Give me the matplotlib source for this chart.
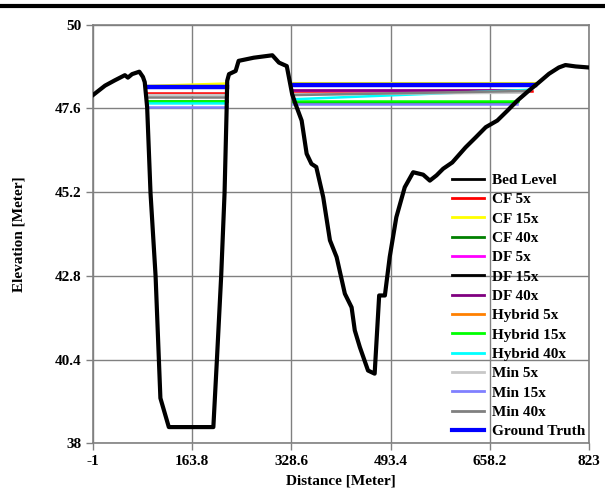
import matplotlib
matplotlib.use("Agg")
import matplotlib.pyplot as plt
import numpy as np
from matplotlib.lines import Line2D

plt.rcParams['font.family'] = ['Liberation Serif', 'DejaVu Serif']
plt.rcParams['font.weight'] = 'bold'

# bed profile
bed_x = [-1, 19, 35, 52, 57, 64, 76, 82, 85, 89, 94.6, 103, 111, 125, 199, 205, 212,
         217.6, 221, 222, 225, 236, 241, 266, 297, 308, 321, 330, 336, 345.7, 354, 362,
         370, 381.5, 392.7, 403.8, 417.5, 428.7, 434, 442.4, 456, 467, 474.5, 484, 492,
         503, 517, 531, 547.6, 558.7, 569.8, 580.8, 596, 618, 635, 651.6, 670.8, 687.4,
         704, 723.4, 737, 756.7, 773, 784, 801, 823]
bed_y = [47.98, 48.25, 48.40, 48.55, 48.48, 48.58, 48.65, 48.50, 48.35, 47.63, 45.17,
         42.8, 39.3, 38.47, 38.47, 40.43, 42.8, 45.17, 47.53, 48.39, 48.58, 48.67, 48.96,
         49.05, 49.12, 48.91, 48.81, 48.0, 47.7, 47.25, 46.3, 46.01, 45.92, 45.06, 43.82,
         43.34, 42.29, 41.9, 41.24, 40.76, 40.09, 40.0, 42.24, 42.24, 43.34, 44.48, 45.34,
         45.77, 45.7, 45.53, 45.68, 45.87, 46.05, 46.48, 46.77, 47.06, 47.25, 47.53, 47.82,
         48.11, 48.3, 48.59, 48.77, 48.84, 48.8, 48.77]

# water surface, channel 1 spans x 89..221, channel 2 from 332 to a per-series end
ch1_x = [89, 221]
ch2_start = 332
names = ['CF 5x', 'CF 15x', 'CF 40x', 'DF 5x', 'DF 15x', 'DF 40x', 'Hybrid 5x',
         'Hybrid 15x', 'Hybrid 40x', 'Min 5x', 'Min 15x', 'Min 40x', 'Ground Truth']
colors = ['#ff0000', '#ffff00', '#008000', '#ff00ff', '#000000', '#800080', '#ff8000',
          '#00ff00', '#00ffff', '#c8c8c8', '#8080ff', '#808080', '#0000ff']
ch1_left = [48.04, 48.24, 47.80, 48.20, 48.21, 48.20, 48.21, 47.82, 47.74, 47.98, 47.65, 47.91, 48.21]
ch1_right = [48.04, 48.31, 47.80, 48.20, 48.21, 48.20, 48.21, 47.82, 47.74, 47.98, 47.65, 47.91, 48.21]
ch2_left = [48.10, 48.32, 47.78, 48.13, 48.27, 48.12, 48.27, 47.81, 47.86, 48.00, 47.73, 47.98, 48.27]
ch2_right = [48.10, 48.32, 47.78, 48.13, 48.27, 48.12, 48.27, 47.81, 48.13, 48.05, 47.73, 48.10, 48.27]
ch2_end = [729, 736, 704, 722, 733, 722, 733, 706, 723, 720, 703, 725, 734]

x_ticks = [-1, 163.8, 328.6, 493.4, 658.2, 823]
x_labels = ['-1', '163.8', '328.6', '493.4', '658.2', '823']
y_ticks = [38, 40.4, 42.8, 45.2, 47.6, 50]
y_labels = ['38', '40.4', '42.8', '45.2', '47.6', '50']

fig = plt.figure(figsize=(6.05, 4.9), dpi=100)
ax = fig.add_axes([0.1537, 0.0949, 0.8197, 0.855])

ax.plot(bed_x, bed_y, color='black', linewidth=3, label='Bed Level', zorder=5)

for i, name in enumerate(names):
    xs = [ch1_x[0], ch1_x[1], np.nan, ch2_start, ch2_end[i]]
    ys = [ch1_left[i], ch1_right[i], np.nan, ch2_left[i], ch2_right[i]]
    lw = 3.2 if name == 'Ground Truth' else 1.8
    ax.plot(xs, ys, color=colors[i], linewidth=lw, label=name, zorder=3)

ax.set_xlim(-1, 823)
ax.set_ylim(38, 50)
ax.set_xticks(x_ticks)
ax.set_xticklabels(x_labels)
ax.set_yticks(y_ticks)
ax.set_yticklabels(y_labels)
ax.grid(True, color='#808080', linewidth=1)
ax.set_axisbelow(True)
for s in ax.spines.values():
    s.set_color('#808080')
    s.set_linewidth(1.2)
ax.tick_params(colors='#808080', labelcolor='black', labelsize=11, length=5, width=1)

ax.set_xlabel('Distance [Meter]', fontsize=11, fontweight='bold')
ax.set_ylabel('Elevation [Meter]', fontsize=11, fontweight='bold')
ax.yaxis.set_label_coords(-0.137, 0.5)
ax.xaxis.set_label_coords(0.5, -0.075)

leg = ax.legend(loc='upper left', bbox_to_anchor=(0.724, 0.645), frameon=False,
                fontsize=11, handlelength=2.07, handletextpad=0.55,
                labelspacing=0.37, borderpad=0, borderaxespad=0)
for line in leg.get_lines():
    line.set_linewidth(2)
leg.get_lines()[-1].set_linewidth(3)

# black rule at the top of the page
fig.add_artist(Line2D([0, 1], [1 - 6.5 / 490, 1 - 6.5 / 490], transform=fig.transFigure,
                      color='black', linewidth=3))

fig.savefig('out.png', dpi=100)
